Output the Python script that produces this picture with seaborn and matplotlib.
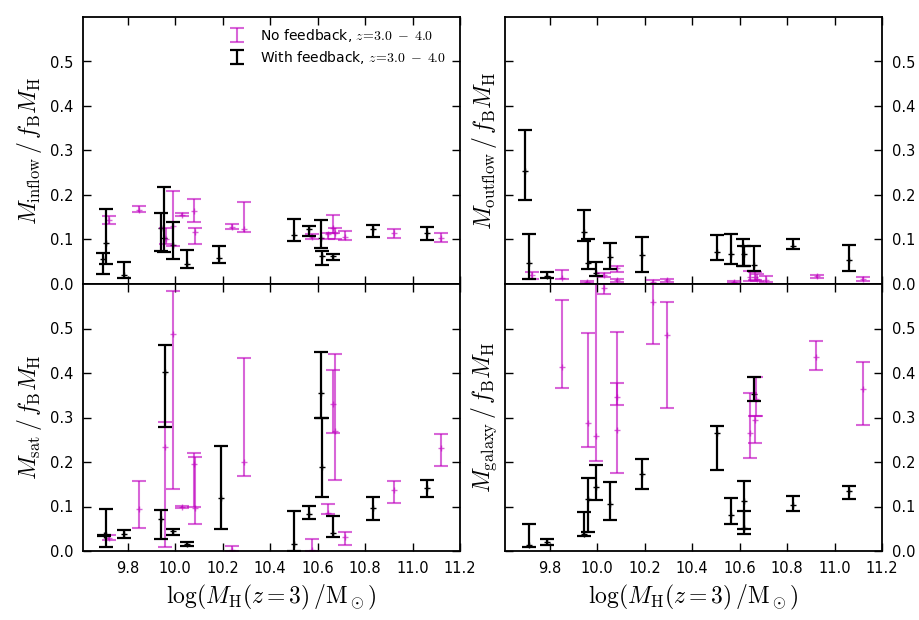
import numpy as np
import pandas as pd
import seaborn as sns
import matplotlib
matplotlib.use("Agg")
import matplotlib.pyplot as plt

# halo masses log(M_H(z=3)/Msun) and median fractions with percentile ranges
# ---- inflow ----
inflow_nofb_x = [9.723, 9.846, 9.96, 9.992, 10.027, 10.081, 10.083, 10.238, 10.291, 10.575, 10.645, 10.666, 10.673, 10.715, 10.923, 11.119]
inflow_nofb_y = [0.144, 0.167, 0.100, 0.130, 0.156, 0.164, 0.117, 0.129, 0.123, 0.106, 0.112, 0.126, 0.115, 0.106, 0.114, 0.104]
inflow_nofb_lo = [0.135, 0.161, 0.090, 0.086, 0.153, 0.139, 0.091, 0.123, 0.117, 0.100, 0.100, 0.115, 0.100, 0.099, 0.104, 0.094]
inflow_nofb_hi = [0.153, 0.176, 0.125, 0.208, 0.160, 0.190, 0.126, 0.135, 0.185, 0.112, 0.115, 0.154, 0.125, 0.119, 0.123, 0.114]

inflow_fb_x = [9.695, 9.709, 9.786, 9.94, 9.954, 9.992, 10.051, 10.183, 10.502, 10.564, 10.614, 10.62, 10.663, 10.832, 11.063]
inflow_fb_y = [0.056, 0.092, 0.020, 0.126, 0.104, 0.087, 0.045, 0.059, 0.110, 0.124, 0.104, 0.062, 0.063, 0.124, 0.115]
inflow_fb_lo = [0.022, 0.046, 0.014, 0.074, 0.071, 0.057, 0.035, 0.048, 0.097, 0.108, 0.082, 0.043, 0.054, 0.105, 0.099]
inflow_fb_hi = [0.069, 0.169, 0.050, 0.160, 0.217, 0.140, 0.077, 0.086, 0.145, 0.130, 0.144, 0.074, 0.068, 0.133, 0.129]

# ---- outflow ----
outflow_nofb_x = [9.726, 9.85, 9.957, 10.03, 10.083, 10.083, 10.237, 10.293, 10.576, 10.645, 10.665, 10.675, 10.713, 10.926, 11.122]
outflow_nofb_y = [0.020, 0.013, 0.004, 0.020, 0.035, 0.009, 0.004, 0.009, 0.005, 0.015, 0.015, 0.012, 0.009, 0.017, 0.011]
outflow_nofb_lo = [0.011, 0.011, 0.002, 0.016, 0.028, 0.005, 0.000, 0.005, 0.002, 0.007, 0.008, 0.006, 0.004, 0.013, 0.007]
outflow_nofb_hi = [0.028, 0.032, 0.006, 0.024, 0.041, 0.011, 0.008, 0.011, 0.007, 0.030, 0.028, 0.022, 0.018, 0.020, 0.015]

outflow_fb_x = [9.698, 9.715, 9.79, 9.944, 9.96, 9.996, 10.055, 10.187, 10.503, 10.566, 10.615, 10.618, 10.661, 10.825, 11.06]
outflow_fb_y = [0.253, 0.047, 0.017, 0.117, 0.048, 0.025, 0.060, 0.065, 0.073, 0.068, 0.085, 0.067, 0.043, 0.086, 0.054]
outflow_fb_lo = [0.188, 0.011, 0.013, 0.097, 0.033, 0.019, 0.033, 0.028, 0.054, 0.046, 0.041, 0.040, 0.030, 0.078, 0.030]
outflow_fb_hi = [0.347, 0.113, 0.028, 0.166, 0.100, 0.050, 0.092, 0.106, 0.109, 0.112, 0.100, 0.086, 0.086, 0.100, 0.088]

# ---- satellites ----
sat_nofb_x = [9.723, 9.846, 9.959, 9.992, 10.027, 10.081, 10.085, 10.238, 10.29, 10.575, 10.645, 10.663, 10.673, 10.715, 10.923, 11.119]
sat_nofb_y = [0.030, 0.095, 0.233, 0.487, 0.099, 0.196, 0.096, 0.002, 0.201, 0.003, 0.086, 0.331, 0.270, 0.031, 0.136, 0.231]
sat_nofb_lo = [0.024, 0.052, 0.009, 0.140, 0.097, 0.100, 0.060, 0.000, 0.168, 0.000, 0.084, 0.266, 0.160, 0.013, 0.107, 0.192]
sat_nofb_hi = [0.035, 0.158, 0.289, 0.585, 0.101, 0.220, 0.212, 0.011, 0.434, 0.027, 0.106, 0.406, 0.443, 0.043, 0.157, 0.263]

sat_fb_x = [9.700, 9.709, 9.786, 9.939, 9.957, 9.992, 10.051, 10.193, 10.50, 10.564, 10.614, 10.620, 10.663, 10.832, 11.063]
sat_fb_y = [0.035, 0.035, 0.039, 0.071, 0.403, 0.045, 0.016, 0.119, 0.016, 0.084, 0.355, 0.188, 0.041, 0.096, 0.141]
sat_fb_lo = [0.033, 0.010, 0.030, 0.027, 0.278, 0.036, 0.011, 0.049, 0.000, 0.072, 0.300, 0.121, 0.031, 0.069, 0.122]
sat_fb_hi = [0.037, 0.095, 0.048, 0.093, 0.464, 0.050, 0.021, 0.235, 0.090, 0.101, 0.447, 0.300, 0.078, 0.122, 0.160]

# ---- central galaxy ----
gal_nofb_x = [9.85, 9.96, 9.995, 10.03, 10.083, 10.083, 10.237, 10.293, 10.646, 10.664, 10.671, 10.923, 11.122]
gal_nofb_y = [0.413, 0.287, 0.259, 0.592, 0.347, 0.273, 0.560, 0.486, 0.265, 0.294, 0.342, 0.436, 0.364]
gal_nofb_lo = [0.366, 0.233, 0.203, 0.578, 0.329, 0.175, 0.465, 0.321, 0.209, 0.243, 0.304, 0.407, 0.283]
gal_nofb_hi = [0.564, 0.489, 0.650, 0.610, 0.493, 0.377, 0.650, 0.560, 0.354, 0.304, 0.390, 0.472, 0.424]

gal_fb_x = [9.715, 9.79, 9.944, 9.96, 9.996, 10.055, 10.187, 10.503, 10.566, 10.618, 10.618, 10.661, 10.825, 11.06]
gal_fb_y = [0.014, 0.020, 0.039, 0.117, 0.143, 0.105, 0.173, 0.265, 0.081, 0.112, 0.052, 0.353, 0.104, 0.135]
gal_fb_lo = [0.010, 0.014, 0.033, 0.042, 0.114, 0.069, 0.140, 0.182, 0.060, 0.050, 0.039, 0.336, 0.090, 0.117]
gal_fb_hi = [0.060, 0.026, 0.087, 0.164, 0.193, 0.155, 0.207, 0.280, 0.120, 0.158, 0.089, 0.390, 0.123, 0.146]

sns.set_theme(style="ticks", rc={
    "xtick.direction": "in", "ytick.direction": "in",
    "xtick.top": True, "ytick.right": True,
    "xtick.major.size": 6, "ytick.major.size": 6,
    "xtick.major.pad": 7, "ytick.major.pad": 7,
    "axes.linewidth": 1.3, "axes.edgecolor": "black",
    "text.color": "black", "axes.labelcolor": "black",
    "xtick.color": "black", "ytick.color": "black",
})
plt.rcParams["font.family"] = ["DejaVu Sans"]
plt.rcParams["mathtext.fontset"] = "cm"

MAGENTA = "#BF00BF"

fig = plt.figure(figsize=(9.19, 6.2), dpi=100)
W, H = 919.0, 620.0
def make_ax(x0, x1, y0, y1):
    return fig.add_axes([x0 / W, 1 - y1 / H, (x1 - x0) / W, (y1 - y0) / H])

ax_in = make_ax(83, 460, 17, 284)
ax_out = make_ax(505, 882, 17, 284)
ax_sat = make_ax(83, 460, 284, 551)
ax_gal = make_ax(505, 882, 284, 551)

panels = [
    (ax_in, r"$M_{\rm inflow}\,/\,f_{\rm B}M_{\rm H}$",
     (inflow_nofb_x, inflow_nofb_y, inflow_nofb_lo, inflow_nofb_hi),
     (inflow_fb_x, inflow_fb_y, inflow_fb_lo, inflow_fb_hi)),
    (ax_out, r"$M_{\rm outflow}\,/\,f_{\rm B}M_{\rm H}$",
     (outflow_nofb_x, outflow_nofb_y, outflow_nofb_lo, outflow_nofb_hi),
     (outflow_fb_x, outflow_fb_y, outflow_fb_lo, outflow_fb_hi)),
    (ax_sat, r"$M_{\rm sat}\,/\,f_{\rm B}M_{\rm H}$",
     (sat_nofb_x, sat_nofb_y, sat_nofb_lo, sat_nofb_hi),
     (sat_fb_x, sat_fb_y, sat_fb_lo, sat_fb_hi)),
    (ax_gal, r"$M_{\rm galaxy}\,/\,f_{\rm B}M_{\rm H}$",
     (gal_nofb_x, gal_nofb_y, gal_nofb_lo, gal_nofb_hi),
     (gal_fb_x, gal_fb_y, gal_fb_lo, gal_fb_hi)),
]

label_nofb = r"No feedback, $z\!=\!3.0\;-\;4.0$"
label_fb = r"With feedback, $z\!=\!3.0\;-\;4.0$"

for ax, ylab, nofb, fb in panels:
    for (x, y, lo, hi), col, alpha, lw, lab in [
        (nofb, MAGENTA, 0.6, 1.5, label_nofb),
        (fb, "black", 1.0, 1.6, label_fb),
    ]:
        df = pd.DataFrame({"x": x, "y": y, "lo": lo, "hi": hi})
        yerr = np.vstack([df["y"] - df["lo"], df["hi"] - df["y"]])
        ax.errorbar(df["x"], df["y"], yerr=yerr, fmt="none", ecolor=col,
                    elinewidth=lw, capsize=5, capthick=lw, alpha=alpha, label=lab)
        sns.scatterplot(data=df, x="x", y="y", ax=ax, marker="+", s=25,
                        color=col, alpha=alpha, linewidth=1.0, legend=False)
    ax.set_xlim(9.612, 11.2)
    ax.set_ylim(0, 0.6)
    ax.set_xticks(np.arange(9.8, 11.21, 0.2))
    ax.set_yticks(np.arange(0, 0.51, 0.1))
    ax.set_ylabel(ylab, fontsize=17, labelpad=4)
    ax.set_xlabel("")
    ax.tick_params(labelsize=10.5, width=1.0, color="black")

for ax in (ax_in, ax_out):
    ax.tick_params(labelbottom=False)
for ax in (ax_sat, ax_gal):
    ax.set_xlabel(r"$\log(M_{\rm H}(z=3)\,/{\rm M}_\odot)$", fontsize=17, labelpad=5)
    ax.xaxis.set_major_formatter(matplotlib.ticker.FormatStrFormatter("%.1f"))
for ax in (ax_out, ax_gal):
    ax.tick_params(labelleft=False, labelright=True)
    ax.yaxis.set_label_position("left")
for ax in (ax_in, ax_out, ax_sat, ax_gal):
    ax.yaxis.set_major_formatter(matplotlib.ticker.FormatStrFormatter("%.1f"))

handles, labels = ax_in.get_legend_handles_labels()
ax_in.legend(handles[:2], labels[:2], loc="upper right", frameon=False,
             fontsize=10, handlelength=1.2, borderaxespad=0.3,
             bbox_to_anchor=(0.99, 1.0), labelspacing=0.35, handletextpad=1.1)

fig.savefig("out.png", dpi=100)
